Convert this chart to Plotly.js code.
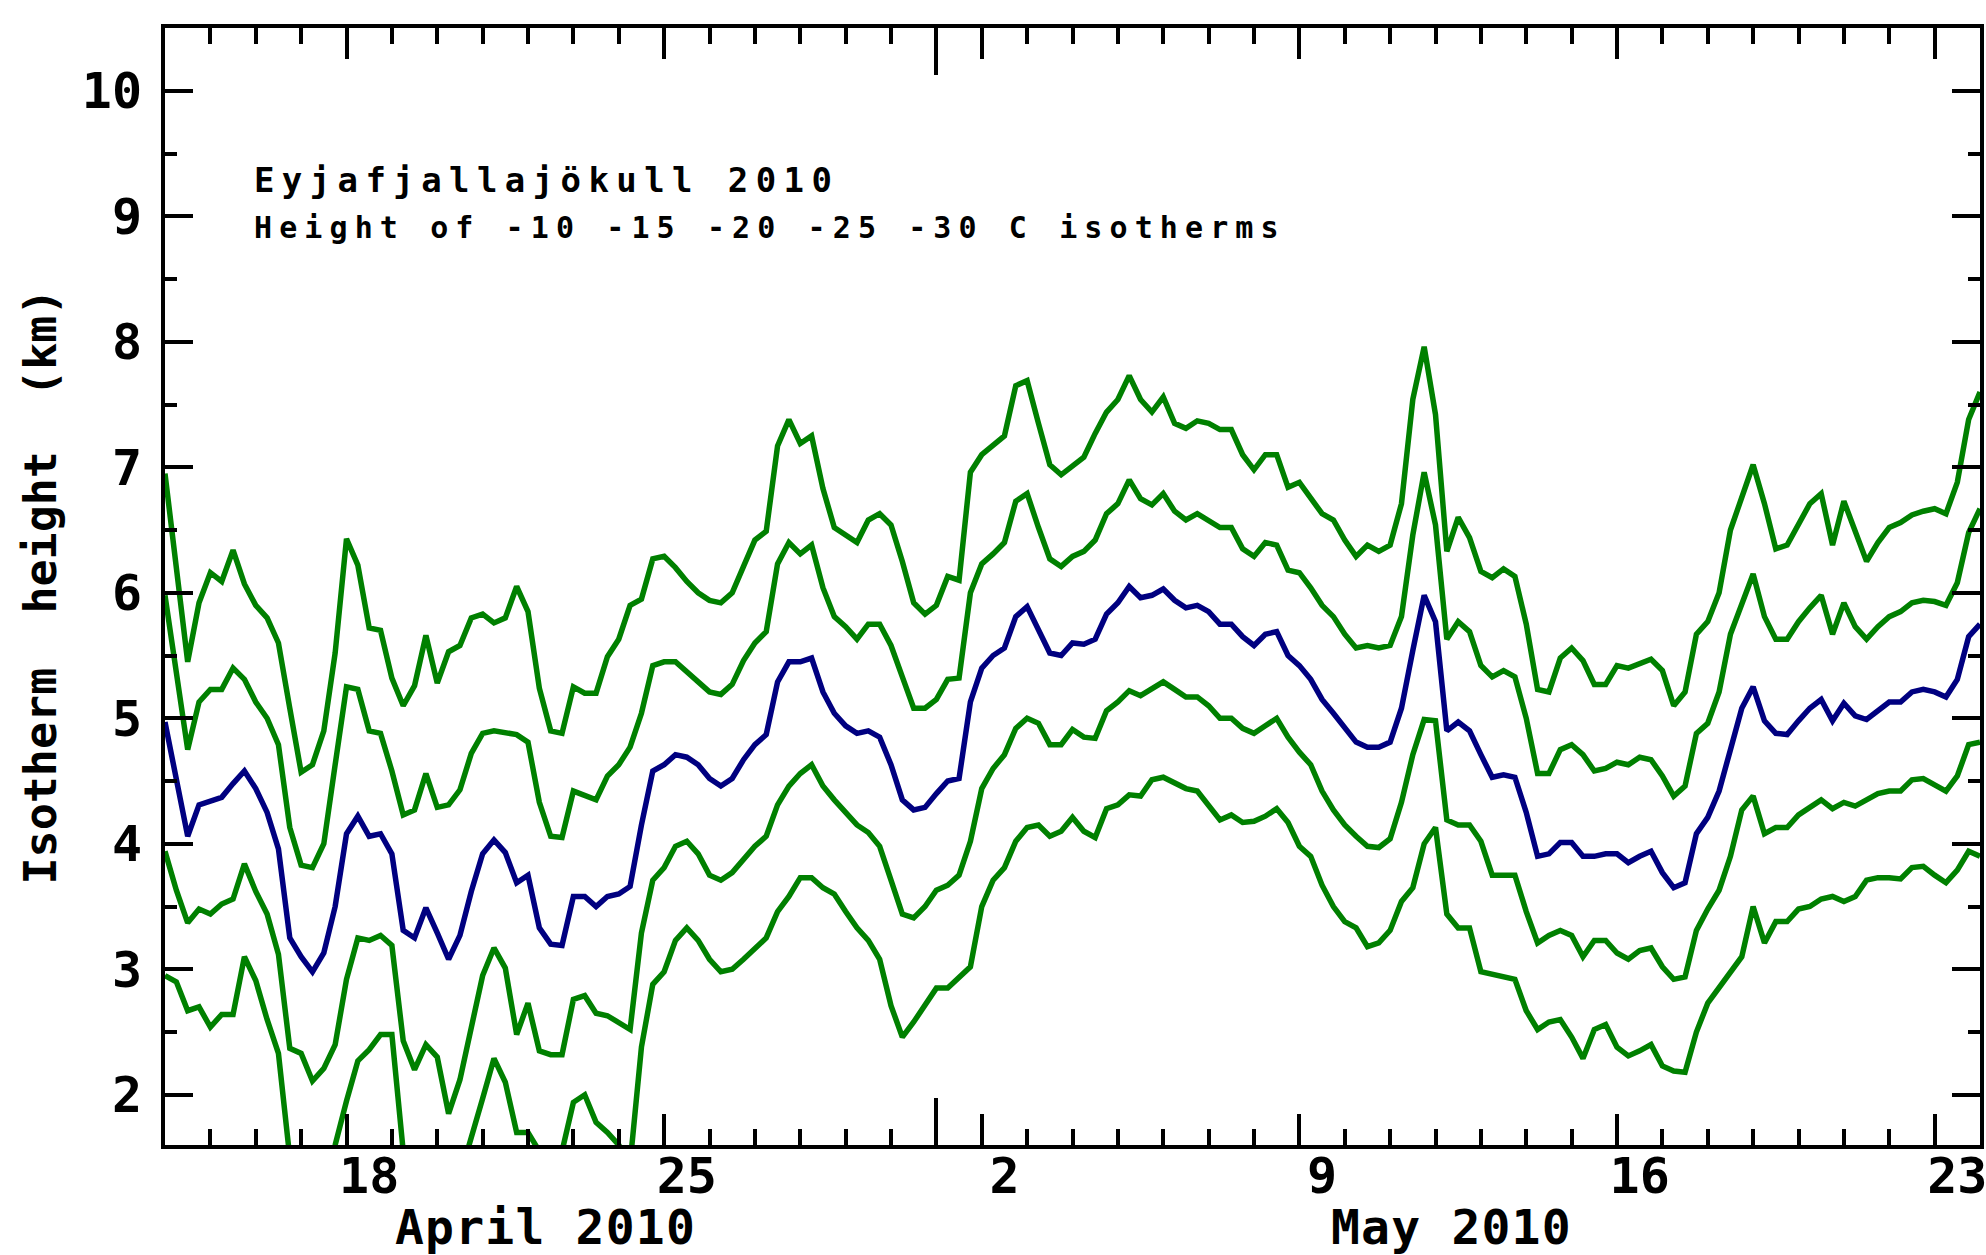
<!DOCTYPE html>
<html>
<head>
<meta charset="utf-8">
<script src="https://cdn.plot.ly/plotly-3.0.1.min.js"></script>
<style>
  html, body { margin: 0; padding: 0; background: #ffffff; }
  #chart { width: 1986px; height: 1255px; }
  text.annotation-text[style*="font-size: 34px"] { letter-spacing: 7.4px; }
  text.annotation-text[style*="font-size: 30px"] { letter-spacing: 7.1px; }
  text.annotation-text[style*="font-size: 48px"] { letter-spacing: 1.2px; }
</style>
</head>
<body>
<div id="chart"></div>
<script>
// ---- Data (6-hourly samples from 14 April 2010 00 UTC to 24 May 2010 00 UTC) ----
const startTime = '2010-04-14T00:00:00Z';
const stepHours = 6;

const iso30 = [6.95,6.2,5.45,5.92,6.16,6.09,6.34,6.07,5.9,5.8,5.6,5.08,4.57,4.63,4.9,5.52,6.43,6.22,5.72,5.7,
5.32,5.1,5.26,5.66,5.28,5.53,5.58,5.8,5.83,5.76,5.8,6.05,5.85,5.24,4.9,4.88,5.25,5.2,5.2,5.49,
5.63,5.9,5.95,6.27,6.29,6.2,6.09,6.0,5.94,5.92,6.0,6.21,6.42,6.49,7.17,7.38,7.19,7.25,6.83,6.52,
6.46,6.4,6.58,6.63,6.54,6.25,5.92,5.83,5.9,6.13,6.1,6.96,7.1,7.17,7.25,7.65,7.69,7.35,7.02,6.94,
7.01,7.08,7.27,7.44,7.54,7.73,7.54,7.44,7.56,7.35,7.31,7.37,7.35,7.3,7.3,7.1,6.98,7.1,7.1,6.84,
6.88,6.75,6.63,6.58,6.42,6.29,6.38,6.33,6.38,6.71,7.54,7.96,7.42,6.33,6.6,6.44,6.17,6.12,6.19,6.13,
5.75,5.23,5.21,5.48,5.56,5.46,5.27,5.27,5.42,5.4,5.44,5.47,5.38,5.1,5.21,5.67,5.77,6.0,6.5,6.75,
7.02,6.71,6.35,6.38,6.54,6.71,6.79,6.38,6.73,6.48,6.25,6.4,6.52,6.56,6.62,6.65,6.67,6.63,6.88,7.38,7.6];

const iso25 = [5.98,5.35,4.75,5.13,5.23,5.23,5.4,5.31,5.13,5.0,4.79,4.13,3.83,3.81,4.0,4.63,5.25,5.23,4.9,4.88,
4.58,4.23,4.27,4.56,4.29,4.31,4.43,4.72,4.88,4.9,4.88,4.87,4.81,4.33,4.06,4.05,4.42,4.38,4.35,4.54,
4.63,4.77,5.04,5.42,5.45,5.45,5.37,5.29,5.21,5.19,5.27,5.46,5.6,5.69,6.23,6.4,6.31,6.38,6.04,5.81,
5.73,5.63,5.75,5.75,5.58,5.33,5.08,5.08,5.15,5.31,5.32,6.0,6.23,6.31,6.4,6.73,6.79,6.52,6.27,6.21,
6.29,6.33,6.42,6.63,6.71,6.9,6.75,6.7,6.79,6.65,6.58,6.63,6.58,6.52,6.52,6.35,6.29,6.4,6.38,6.18,
6.16,6.04,5.9,5.81,5.67,5.56,5.58,5.56,5.58,5.81,6.46,6.96,6.54,5.63,5.77,5.69,5.42,5.33,5.38,5.33,
5.0,4.56,4.56,4.75,4.79,4.71,4.58,4.6,4.65,4.63,4.69,4.67,4.54,4.38,4.46,4.88,4.96,5.21,5.67,5.9,
6.15,5.81,5.63,5.63,5.77,5.88,5.98,5.67,5.92,5.73,5.63,5.73,5.81,5.85,5.92,5.94,5.93,5.9,6.08,6.48,6.67];

const iso20 = [4.97,4.5,4.06,4.31,4.34,4.37,4.48,4.58,4.44,4.25,3.96,3.25,3.1,2.98,3.13,3.5,4.08,4.22,4.06,4.08,
3.92,3.31,3.25,3.49,3.29,3.08,3.27,3.62,3.92,4.03,3.93,3.69,3.75,3.33,3.2,3.19,3.58,3.58,3.5,3.58,
3.6,3.66,4.15,4.58,4.63,4.71,4.69,4.63,4.52,4.46,4.52,4.67,4.79,4.87,5.29,5.45,5.45,5.48,5.21,5.04,
4.94,4.88,4.9,4.85,4.63,4.35,4.27,4.29,4.4,4.5,4.52,5.13,5.4,5.5,5.56,5.81,5.89,5.71,5.52,5.5,
5.6,5.59,5.63,5.83,5.92,6.05,5.96,5.98,6.03,5.94,5.88,5.9,5.85,5.75,5.75,5.65,5.58,5.67,5.69,5.5,
5.42,5.31,5.15,5.04,4.92,4.81,4.77,4.77,4.81,5.08,5.54,5.98,5.77,4.9,4.97,4.9,4.71,4.53,4.55,4.53,
4.25,3.9,3.92,4.01,4.01,3.9,3.9,3.92,3.92,3.85,3.9,3.94,3.77,3.65,3.69,4.08,4.21,4.42,4.75,5.08,
5.25,4.98,4.88,4.87,4.98,5.08,5.15,4.98,5.12,5.02,4.99,5.06,5.13,5.13,5.21,5.23,5.21,5.17,5.31,5.65,5.75];

const iso15 = [3.94,3.63,3.37,3.48,3.44,3.52,3.56,3.84,3.62,3.44,3.12,2.37,2.33,2.11,2.21,2.4,2.92,3.25,3.23,3.27,
3.19,2.43,2.2,2.4,2.3,1.85,2.12,2.54,2.95,3.17,3.01,2.48,2.73,2.35,2.32,2.32,2.76,2.79,2.65,2.63,
2.57,2.52,3.29,3.71,3.81,3.98,4.02,3.92,3.75,3.71,3.77,3.88,3.98,4.06,4.31,4.46,4.56,4.63,4.46,4.35,
4.25,4.15,4.09,3.98,3.71,3.44,3.41,3.5,3.63,3.67,3.75,4.02,4.44,4.6,4.71,4.92,5.0,4.96,4.79,4.79,
4.91,4.85,4.84,5.06,5.13,5.22,5.18,5.23,5.29,5.23,5.17,5.17,5.1,5.0,5.0,4.92,4.88,4.94,5.0,4.85,
4.73,4.63,4.42,4.27,4.15,4.06,3.98,3.97,4.04,4.33,4.71,4.99,4.98,4.19,4.15,4.15,4.02,3.75,3.75,3.75,
3.46,3.21,3.27,3.31,3.27,3.1,3.23,3.23,3.13,3.08,3.15,3.17,3.02,2.92,2.94,3.31,3.48,3.63,3.9,4.27,
4.38,4.08,4.13,4.13,4.23,4.29,4.35,4.28,4.33,4.3,4.35,4.4,4.42,4.42,4.51,4.52,4.47,4.42,4.54,4.79,4.81];

const iso10 = [2.95,2.9,2.67,2.7,2.54,2.64,2.64,3.1,2.91,2.6,2.33,1.5,1.3,1.2,1.3,1.6,1.95,2.27,2.36,2.48,
2.48,1.55,1.3,1.4,1.35,1.2,1.35,1.65,1.97,2.29,2.1,1.7,1.7,1.55,1.45,1.55,1.94,2.0,1.78,1.7,
1.6,1.45,2.38,2.88,2.98,3.23,3.33,3.23,3.08,2.98,3.0,3.08,3.17,3.25,3.46,3.58,3.73,3.73,3.65,3.6,
3.46,3.33,3.23,3.08,2.71,2.46,2.58,2.71,2.85,2.85,2.94,3.02,3.5,3.71,3.81,4.02,4.13,4.15,4.06,4.1,
4.21,4.1,4.05,4.28,4.31,4.39,4.38,4.51,4.53,4.49,4.44,4.42,4.31,4.19,4.23,4.17,4.18,4.22,4.28,4.17,
3.98,3.9,3.67,3.5,3.38,3.33,3.18,3.21,3.31,3.54,3.65,4.0,4.13,3.44,3.33,3.33,2.98,2.96,2.94,2.92,
2.67,2.52,2.58,2.6,2.46,2.29,2.52,2.56,2.38,2.31,2.35,2.4,2.23,2.19,2.18,2.5,2.73,2.85,2.98,3.1,
3.5,3.21,3.38,3.38,3.48,3.5,3.56,3.58,3.54,3.58,3.71,3.73,3.73,3.72,3.81,3.82,3.75,3.69,3.79,3.94,3.9];

// Axis tick labels (labels sit at the middle of the labelled day)
const dayLabelDates = ['2010-04-18','2010-04-25','2010-05-02','2010-05-09','2010-05-16','2010-05-23'];
const dayLabelText  = ['18','25','2','9','16','23'];
const monthLabels   = ['April 2010','May 2010'];
const monthLabelAt  = ['2010-04-22 09:20','2010-05-12 08:40'];
const yTickVals = [2,3,4,5,6,7,8,9,10];

const xRange = ['2010-04-14 00:00','2010-05-24 00:00'];
const yRange = [1.6, 10.5];

// ---- build time stamps ----
function fmt(d){ return d.toISOString().slice(0,16).replace('T',' '); }
const t0 = new Date(startTime).getTime();
const times = iso30.map((_, i) => fmt(new Date(t0 + i*stepHours*3600*1000)));

// daily tick positions (midnights) and weekly/month ticks
const dailyTicks = [];
for (let d = new Date('2010-04-15T00:00:00Z'); d < new Date('2010-05-24T00:00:00Z'); d = new Date(d.getTime()+86400000)) {
  dailyTicks.push(fmt(d));
}
const weeklyTicks = dayLabelDates.map(s => s + ' 00:00');
const monthTicks = ['2010-05-01 00:00'];
const labelNoon = dayLabelDates.map(s => s + ' 12:00');

const GREEN = '#008000';
const BLUE = '#000080';
const LW = 5.5;
const FONT = 'DejaVu Sans Mono';

const traces = [
  {x: times, y: iso10, name: '-10 C', mode: 'lines', line: {color: GREEN, width: LW}},
  {x: times, y: iso15, name: '-15 C', mode: 'lines', line: {color: GREEN, width: LW}},
  {x: times, y: iso25, name: '-25 C', mode: 'lines', line: {color: GREEN, width: LW}},
  {x: times, y: iso30, name: '-30 C', mode: 'lines', line: {color: GREEN, width: LW}},
  {x: times, y: iso20, name: '-20 C', mode: 'lines', line: {color: BLUE, width: LW}},
  {x: [], y: [], xaxis: 'x2', yaxis: 'y', showlegend: false, hoverinfo: 'skip'},
  {x: [], y: [], xaxis: 'x3', yaxis: 'y', showlegend: false, hoverinfo: 'skip'},
  {x: [], y: [], xaxis: 'x4', yaxis: 'y', showlegend: false, hoverinfo: 'skip'}
];

const tickAxis = (vals, len) => ({
  overlaying: 'x', anchor: 'y', type: 'date', range: xRange,
  tickmode: 'array', tickvals: vals, ticks: 'inside', ticklen: len, tickwidth: 4,
  tickcolor: '#000', mirror: 'ticks', showline: false, showgrid: false, zeroline: false,
  showticklabels: false, automargin: false, fixedrange: true
});

const layout = {
  width: 1986, height: 1255,
  margin: {l: 165, r: 6, t: 28, b: 110},
  paper_bgcolor: '#ffffff', plot_bgcolor: '#ffffff',
  showlegend: false,
  font: {family: FONT, color: '#000', weight: 'bold'},
  xaxis: {
    type: 'date', range: xRange, showgrid: false, zeroline: false,
    showline: true, linecolor: '#000', linewidth: 4, mirror: true,
    ticks: '', tickmode: 'array', tickvals: labelNoon, ticktext: dayLabelText,
    tickfont: {family: FONT, size: 50, color: '#000', weight: 'bold'}, ticklabelstandoff: -16,
    ticklabeloverflow: 'allow',
    automargin: false, fixedrange: true
  },
  xaxis2: tickAxis(dailyTicks, 16),
  xaxis3: tickAxis(weeklyTicks, 31),
  xaxis4: tickAxis(monthTicks, 47),
  yaxis: {
    range: yRange, showgrid: false, zeroline: false,
    showline: true, linecolor: '#000', linewidth: 4, mirror: 'ticks',
    ticks: 'inside', ticklen: 28, tickwidth: 4, tickcolor: '#000',
    tickmode: 'array', tickvals: yTickVals,
    minor: {dtick: 0.5, tick0: 0, ticks: 'inside', ticklen: 12, tickwidth: 4, tickcolor: '#000', showgrid: false},
    tickfont: {family: FONT, size: 50, color: '#000', weight: 'bold'}, ticklabelstandoff: 9,
    title: {text: 'Isotherm  height  (km)', font: {family: FONT, size: 45, color: '#000', weight: 'bold'}, standoff: 12},
    automargin: false, fixedrange: true
  },
  annotations: [
    {xref: 'paper', yref: 'paper', x: 0.0479, y: 0.8635, xanchor: 'left', yanchor: 'middle',
     text: 'Eyjafjallajökull 2010', showarrow: false, font: {family: FONT, size: 34, color: '#000', weight: 'bold'}},
    {xref: 'paper', yref: 'paper', x: 0.0479, y: 0.8214, xanchor: 'left', yanchor: 'middle',
     text: 'Height of -10 -15 -20 -25 -30 C isotherms', showarrow: false, font: {family: FONT, size: 30, color: '#000', weight: 'bold'}},
    {xref: 'x', yref: 'paper', x: monthLabelAt[0], y: -0.0735, xanchor: 'center', yanchor: 'middle',
     text: monthLabels[0], showarrow: false, font: {family: FONT, size: 48, color: '#000', weight: 'bold'}},
    {xref: 'x', yref: 'paper', x: monthLabelAt[1], y: -0.0735, xanchor: 'center', yanchor: 'middle',
     text: monthLabels[1], showarrow: false, font: {family: FONT, size: 48, color: '#000', weight: 'bold'}}
  ]
};

Plotly.newPlot('chart', traces, layout, {displayModeBar: false, staticPlot: true});
</script>
</body>
</html>
